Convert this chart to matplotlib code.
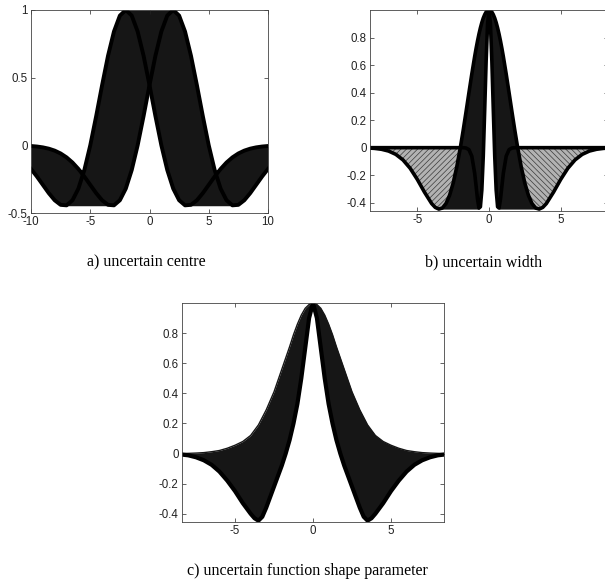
"""Familles de chapeaux mexicains : centre, largeur et forme incertains"""
import numpy as np
import matplotlib
matplotlib.use('Agg')
import matplotlib.pyplot as plt
from matplotlib.ticker import FuncFormatter

# a) centre incertain : courbes extremes (centre -2 et +2) et enveloppe
x_a = [-10, -9.5, -9, -8.5, -8, -7.5, -7, -6.5, -6, -5.5, -5, -4.5, -4, -3.5,
       -3, -2.5, -2, -1.5, -1, -0.5, 0, 0.5, 1, 1.5, 2, 2.5, 3, 3.5, 4, 4.5,
       5, 5.5, 6, 6.5, 7, 7.5, 8, 8.5, 9, 9.5, 10]
curve_right_a = [-0.0050, -0.0088, -0.0150, -0.0246, -0.0391, -0.0600, -0.0889,
                 -0.1269, -0.1746, -0.2307, -0.2921, -0.3533, -0.4060, -0.4398,
                 -0.4434, -0.4058, -0.3198, -0.1828, 0.0, 0.2159, 0.4448,
                 0.6619, 0.8409, 0.9588, 1.0, 0.9588, 0.8409, 0.6619, 0.4448,
                 0.2159, 0.0, -0.1828, -0.3198, -0.4058, -0.4434, -0.4398,
                 -0.4060, -0.3533, -0.2921, -0.2307, -0.1746]
curve_left_a = curve_right_a[::-1]  # image miroir
upper_a = [-0.0050, -0.0088, -0.0150, -0.0246, -0.0391, -0.0600, -0.0889,
           -0.1269, -0.1746, -0.1828, 0.0, 0.2159, 0.4448, 0.6619, 0.8409,
           0.9588, 1.0, 1.0, 1.0, 1.0, 1.0, 1.0, 1.0, 1.0, 1.0, 0.9588, 0.8409,
           0.6619, 0.4448, 0.2159, 0.0, -0.1828, -0.1746, -0.1269, -0.0889,
           -0.0600, -0.0391, -0.0246, -0.0150, -0.0088, -0.0050]
lower_a = [-0.1746, -0.2307, -0.2921, -0.3533, -0.4060, -0.4398, -0.4463,
           -0.4463, -0.4463, -0.4463, -0.4463, -0.4463, -0.4463, -0.4463,
           -0.4434, -0.4058, -0.3198, -0.1828, 0.0, 0.2159, 0.4448, 0.2159,
           0.0, -0.1828, -0.3198, -0.4058, -0.4434, -0.4463, -0.4463, -0.4463,
           -0.4463, -0.4463, -0.4463, -0.4463, -0.4463, -0.4398, -0.4060,
           -0.3533, -0.2921, -0.2307, -0.1746]

# b) largeur incertaine : demi-axe x >= 0 (courbes symetriques)
x_b = [0, 0.1, 0.2, 0.3, 0.4, 0.5, 0.6, 0.7, 0.8, 0.9, 1.0, 1.2, 1.4, 1.6, 1.8,
       2.0, 2.25, 2.5, 2.75, 3.0, 3.25, 3.5, 3.75, 4.0, 4.5, 5.0, 5.5, 6.0,
       6.5, 7.0, 7.5, 8.0, 8.5]
wide_b = [1.0, 0.9963, 0.9851, 0.9666, 0.9410, 0.9087, 0.8700, 0.8254, 0.7754,
          0.7208, 0.6619, 0.5346, 0.3992, 0.2614, 0.1267, 0.0, -0.1411,
          -0.2575, -0.3461, -0.4058, -0.4382, -0.4460, -0.4338, -0.4060,
          -0.3232, -0.2307, -0.1496, -0.0889, -0.0486, -0.0246, -0.0116,
          -0.0050, -0.0020]
narrow_b = [1.0, 0.8991, 0.6295, 0.2759, -0.0621, -0.3077, -0.4293, -0.4387,
            -0.3742, -0.2790, -0.1857, -0.0613, -0.0142, -0.0024, -0.0003, 0.0,
            0.0, 0.0, 0.0, 0.0, 0.0, 0.0, 0.0, 0.0, 0.0, 0.0, 0.0, 0.0, 0.0,
            0.0, 0.0, 0.0, 0.0]
lower_b = [1.0, 0.8991, 0.6295, 0.2759, -0.0621, -0.3077, -0.4293, -0.4463,
           -0.4463, -0.4463, -0.4463, -0.4463, -0.4463, -0.4463, -0.4463,
           -0.4463, -0.4463, -0.4463, -0.4463, -0.4463, -0.4463, -0.4460,
           -0.4338, -0.4060, -0.3232, -0.2307, -0.1496, -0.0889, -0.0486,
           -0.0246, -0.0116, -0.0050, -0.0020]

# c) parametre de forme incertain : demi-axe x >= 0
x_c = [0, 0.25, 0.5, 0.75, 1.0, 1.25, 1.5, 1.75, 2.0, 2.5, 3.0, 3.25, 3.5,
       3.75, 4.0, 4.5, 5.0, 5.5, 6.0, 6.5, 7.0, 7.5, 8.0, 8.5]
upper_c = [1.0, 0.99, 0.965, 0.92, 0.86, 0.79, 0.71, 0.635, 0.56, 0.41, 0.29,
           0.24, 0.19, 0.155, 0.12, 0.08, 0.055, 0.035, 0.02, 0.012, 0.006,
           0.003, 0.001, 0.0]
inner_c = [1.0, 0.9, 0.7, 0.5, 0.33, 0.2, 0.09, 0.0, -0.08, -0.22, -0.36,
           -0.42, -0.446, -0.43, -0.40, -0.33, -0.25, -0.18, -0.12, -0.075,
           -0.045, -0.025, -0.012, -0.006]

captions = ['a) uncertain centre', 'b) uncertain width',
            'c) uncertain function shape parameter']

FILL = '#161616'


def mirror(values, negate=False):
    """Complete un demi-axe x >= 0 par symetrie"""
    v = np.asarray(values, dtype=float)
    left = -v[:0:-1] if negate else v[:0:-1]
    return np.concatenate([left, v])


def style_axes(ax, xlim, ylim, xticks, yticks):
    """Axes facon MATLAB : boite, graduations vers l'interieur"""
    ax.set_xlim(xlim)
    ax.set_ylim(ylim)
    ax.set_xticks(xticks)
    ax.set_yticks(yticks)
    fmt = FuncFormatter(lambda v, p: '%g' % v)
    ax.xaxis.set_major_formatter(fmt)
    ax.yaxis.set_major_formatter(fmt)
    ax.tick_params(direction='in', top=True, right=True, length=3, width=0.5,
                   labelsize=8.3, pad=2.5, colors='#222222')
    for sp in ax.spines.values():
        sp.set_linewidth(0.6)
        sp.set_color('#444444')


plt.rcParams['font.family'] = ['Liberation Sans', 'DejaVu Sans']
plt.rcParams['axes.unicode_minus'] = False
plt.rcParams['hatch.linewidth'] = 0.5

fig = plt.figure(figsize=(6.05, 5.86), dpi=100)
W, H = 605.0, 586.0


def add_axes_px(left, top, right, bottom):
    return fig.add_axes([left / W, 1 - bottom / H, (right - left) / W,
                         (bottom - top) / H])


# a) centre incertain
ax = add_axes_px(31, 10, 268, 213)
ax.fill_between(x_a, lower_a, upper_a, color=FILL, linewidth=0)
ax.plot(x_a, curve_right_a, color='black', lw=2.8)
ax.plot(x_a, curve_left_a, color='black', lw=2.8)
style_axes(ax, (-10, 10), (-0.5, 1), [-10, -5, 0, 5, 10], [-0.5, 0, 0.5, 1])

# b) largeur incertaine
xb = mirror(x_b, negate=True)
wb = mirror(wide_b)
nb = mirror(narrow_b)
lb = mirror(lower_b)
ax = add_axes_px(370, 10, 608, 211)
# zone grise : faisceau clairseme des courbes sous zero
ax.fill_between(xb, nb, wb, where=(nb >= wb) & (xb >= 0), interpolate=True,
                facecolor='#b2b2b2', edgecolor='#3a3a3a', hatch='\\\\\\\\\\\\',
                linewidth=0)
ax.fill_between(xb, nb, wb, where=(nb >= wb) & (xb <= 0), interpolate=True,
                facecolor='#b2b2b2', edgecolor='#3a3a3a', hatch='//////',
                linewidth=0)
ax.fill_between(xb, lb, wb, color=FILL, linewidth=0)
ax.plot(xb, wb, color='black', lw=2.6)
ax.plot(xb, nb, color='black', lw=2.6)
style_axes(ax, (-8.3, 8.3), (-0.46, 1.0), [-5, 0, 5],
           [-0.4, -0.2, 0, 0.2, 0.4, 0.6, 0.8])

# c) parametre de forme incertain
xc = mirror(x_c, negate=True)
uc = mirror(upper_c)
ic = mirror(inner_c)
ax = add_axes_px(182, 303, 444, 522)
ax.fill_between(xc, ic, uc, color=FILL, linewidth=0)
ax.plot(xc, uc, color=FILL, lw=1.0)
ax.plot(xc, ic, color='black', lw=3.0)
style_axes(ax, (-8.4, 8.4), (-0.455, 1.0), [-5, 0, 5],
           [-0.4, -0.2, 0, 0.2, 0.4, 0.6, 0.8])

# legendes sous chaque graphique
cap_font = dict(family=['Liberation Serif', 'DejaVu Serif'], fontsize=11.5,
                ha='center', va='center')
fig.text(146 / W, 1 - 262 / H, captions[0], **cap_font)
fig.text(484 / W, 1 - 262 / H, captions[1], **cap_font)
fig.text(307 / W, 1 - 571 / H, captions[2], **cap_font)

fig.savefig('out.png', dpi=100)
plt.close(fig)
